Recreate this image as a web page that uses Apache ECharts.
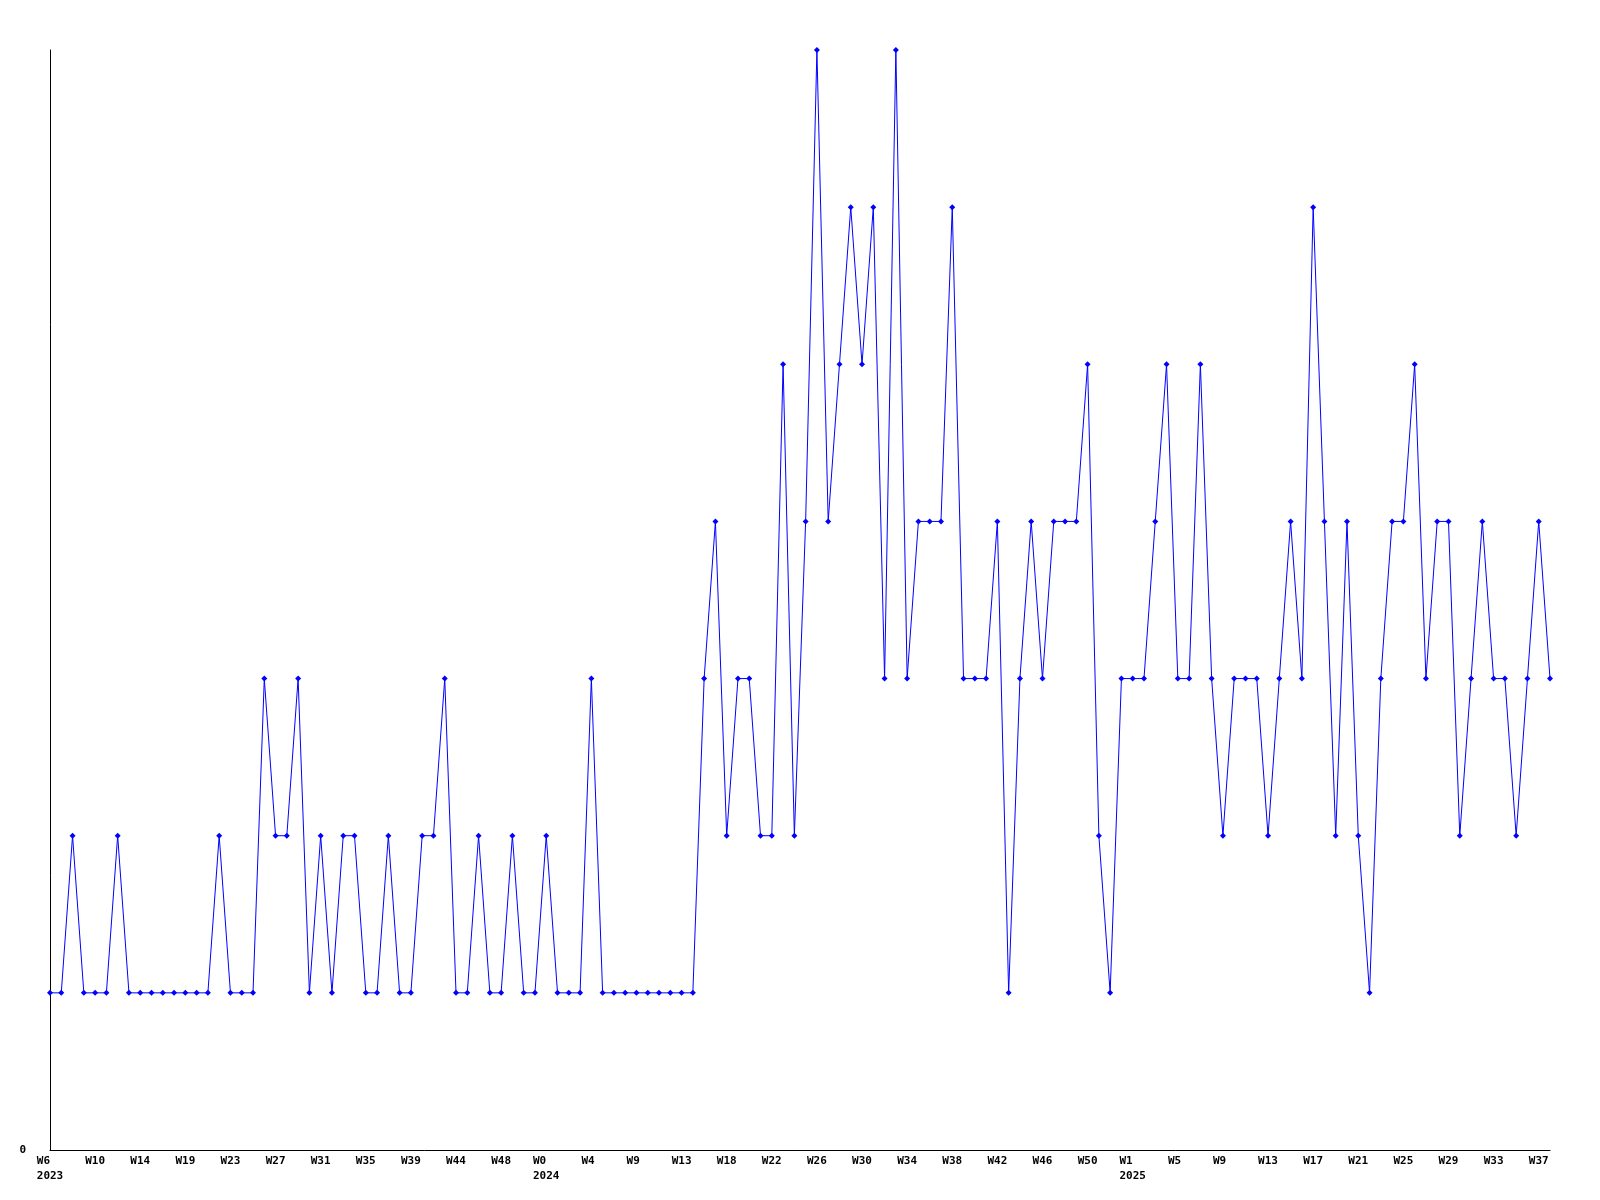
<!DOCTYPE html>
<html>
<head>
<meta charset="utf-8">
<script src="https://cdn.jsdelivr.net/npm/echarts@6/dist/echarts.min.js"></script>
<style>
  html, body { margin: 0; padding: 0; background: #fff; }
  #chart { width: 1600px; height: 1200px; }
</style>
</head>
<body>
<div id="chart"></div>
<script>
// weekly counts, one value per week
const counts = [
  1, 1, 2, 1, 1, 1, 2, 1, 1, 1, 1, 1, 1, 1, 1, 2, 1, 1, 1, 3, 2, 2, 3, 1, 2, 1, 2, 2,
  1, 1, 2, 1, 1, 2, 2, 3, 1, 1, 2, 1, 1, 2, 1, 1, 2, 1, 1, 1, 3, 1, 1, 1, 1, 1, 1, 1, 1, 1,
  3, 4, 2, 3, 3, 2, 2, 5, 2, 4, 7, 4, 5, 6, 5, 6, 3, 7, 3, 4, 4, 4, 6, 3, 3, 3,
  4, 1, 3, 4, 3, 4, 4, 4, 5, 2, 1, 3, 3, 3, 4, 5, 3, 3, 5, 3, 2, 3, 3, 3, 2, 3,
  4, 3, 6, 4, 2, 4, 2, 1, 3, 4, 4, 5, 3, 4, 4, 2, 3, 4, 3, 3, 2, 3, 4, 3
]

// one tick label every 4th week
const tickWeeks = [
  'W6', 'W10', 'W14', 'W19', 'W23', 'W27', 'W31', 'W35', 'W39', 'W44', 'W48',
  'W0', 'W4', 'W9', 'W13', 'W18', 'W22', 'W26', 'W30', 'W34', 'W38', 'W42', 'W46', 'W50',
  'W1', 'W5', 'W9', 'W13', 'W17', 'W21', 'W25', 'W29', 'W33', 'W37'
]
const tickYears = {0: '2023', 11: '2024', 24: '2025'}
const tickStep = 4

const xCats = counts.map((v, i) => String(i))

const chart = echarts.init(document.getElementById('chart'))

const labelFont = {
  fontFamily: 'DejaVu Sans Mono',
  fontWeight: 'bold',
  fontSize: 11,
  color: '#000'
}

chart.setOption({
  animation: false,
  backgroundColor: '#fff',
  grid: {
    left: 50,
    right: 50,
    top: 50,
    bottom: 50
  },
  xAxis: {
    type: 'category',
    data: xCats,
    boundaryGap: false,
    axisLine: {lineStyle: {color: '#000', width: 1}},
    axisTick: {show: false},
    splitLine: {show: false},
    axisLabel: Object.assign({
      interval: tickStep - 1,
      margin: 4,
      lineHeight: 15,
      align: 'center',
      formatter: function (val, idx) {
        if (idx % tickStep !== 0) return ''
        const k = idx / tickStep
        let s = (tickWeeks[k] || '').padEnd(3, ' ')
        if (tickYears[k]) s = tickWeeks[k].padEnd(4, ' ') + '\n' + tickYears[k]
        return s
      }
    }, labelFont)
  },
  yAxis: {
    type: 'value',
    min: 0,
    max: 7,
    interval: 7,
    axisLine: {show: true, lineStyle: {color: '#000', width: 1}},
    axisTick: {show: false},
    splitLine: {show: false},
    axisLabel: Object.assign({
      margin: 24,
      formatter: function (v) { return v === 0 ? '0' : '' }
    }, labelFont)
  },
  series: [{
    type: 'line',
    data: counts,
    symbol: 'diamond',
    symbolSize: 6,
    showAllSymbol: true,
    lineStyle: {color: '#0000ff', width: 1},
    itemStyle: {color: '#0000ff'}
  }]
})
</script>
</body>
</html>
